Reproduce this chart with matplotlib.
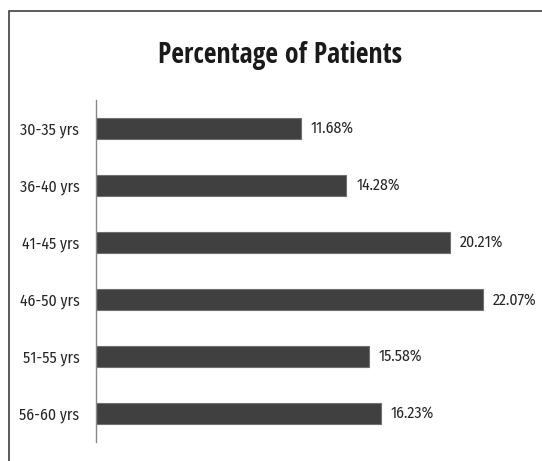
import matplotlib
matplotlib.use("Agg")
import matplotlib.pyplot as plt
from matplotlib.patches import Rectangle

categories = ["30-35 yrs", "36-40 yrs", "41-45 yrs", "46-50 yrs", "51-55 yrs", "56-60 yrs"]
values = [11.68, 14.28, 20.21, 22.07, 15.58, 16.23]
value_labels = ["11.68%", "14.28%", "20.21%", "22.07%", "15.58%", "16.23%"]
title = "Percentage of Patients"

W, H = 542, 461
fig = plt.figure(figsize=(W / 100, H / 100), dpi=100)
title_fam = ["Open Sans Condensed", "Carlito", "DejaVu Sans"]
lab_fam = ["Fira Sans Condensed", "Carlito", "DejaVu Sans"]

# outer frame
fig.patches.append(Rectangle((9 / W, -0.05), 1.2, (H - 11) / H + 0.05, transform=fig.transFigure,
                             fill=False, edgecolor="#404040", linewidth=1.2))

ax = fig.add_axes([96 / W, 1 - 442 / H, (520 - 96) / W, (442 - 100) / H])
ypos = list(range(len(categories)))
ax.barh(ypos, values, height=0.38, color="#404040", edgecolor="#707070", linewidth=0.8)
ax.set_xlim(0, (520 - 96) / 17.54)
ax.set_ylim(len(categories) - 0.5, -0.5)
ax.set_yticks(ypos)
ax.set_yticklabels(categories, fontsize=11.3, family=lab_fam, fontweight="normal", color="#262626")
ax.tick_params(axis="y", length=0, pad=12)
ax.set_xticks([])
for s in ["top", "right", "bottom"]:
    ax.spines[s].set_visible(False)
ax.spines["left"].set_color("#888888")
ax.spines["left"].set_linewidth(1.0)
ax.patch.set_visible(False)

for y, v, lab in zip(ypos, values, value_labels):
    ax.text(v + 0.55, y, lab, va="center", ha="left", fontsize=11.3, family=lab_fam, fontweight="normal",
            color="#262626", clip_on=False)

fig.text(280 / W, 1 - 55 / H, title, ha="center", va="center", fontsize=20, fontweight="bold",
         family=title_fam, color="#1a1a1a")

fig.savefig("out.png", dpi=100, facecolor="white")
